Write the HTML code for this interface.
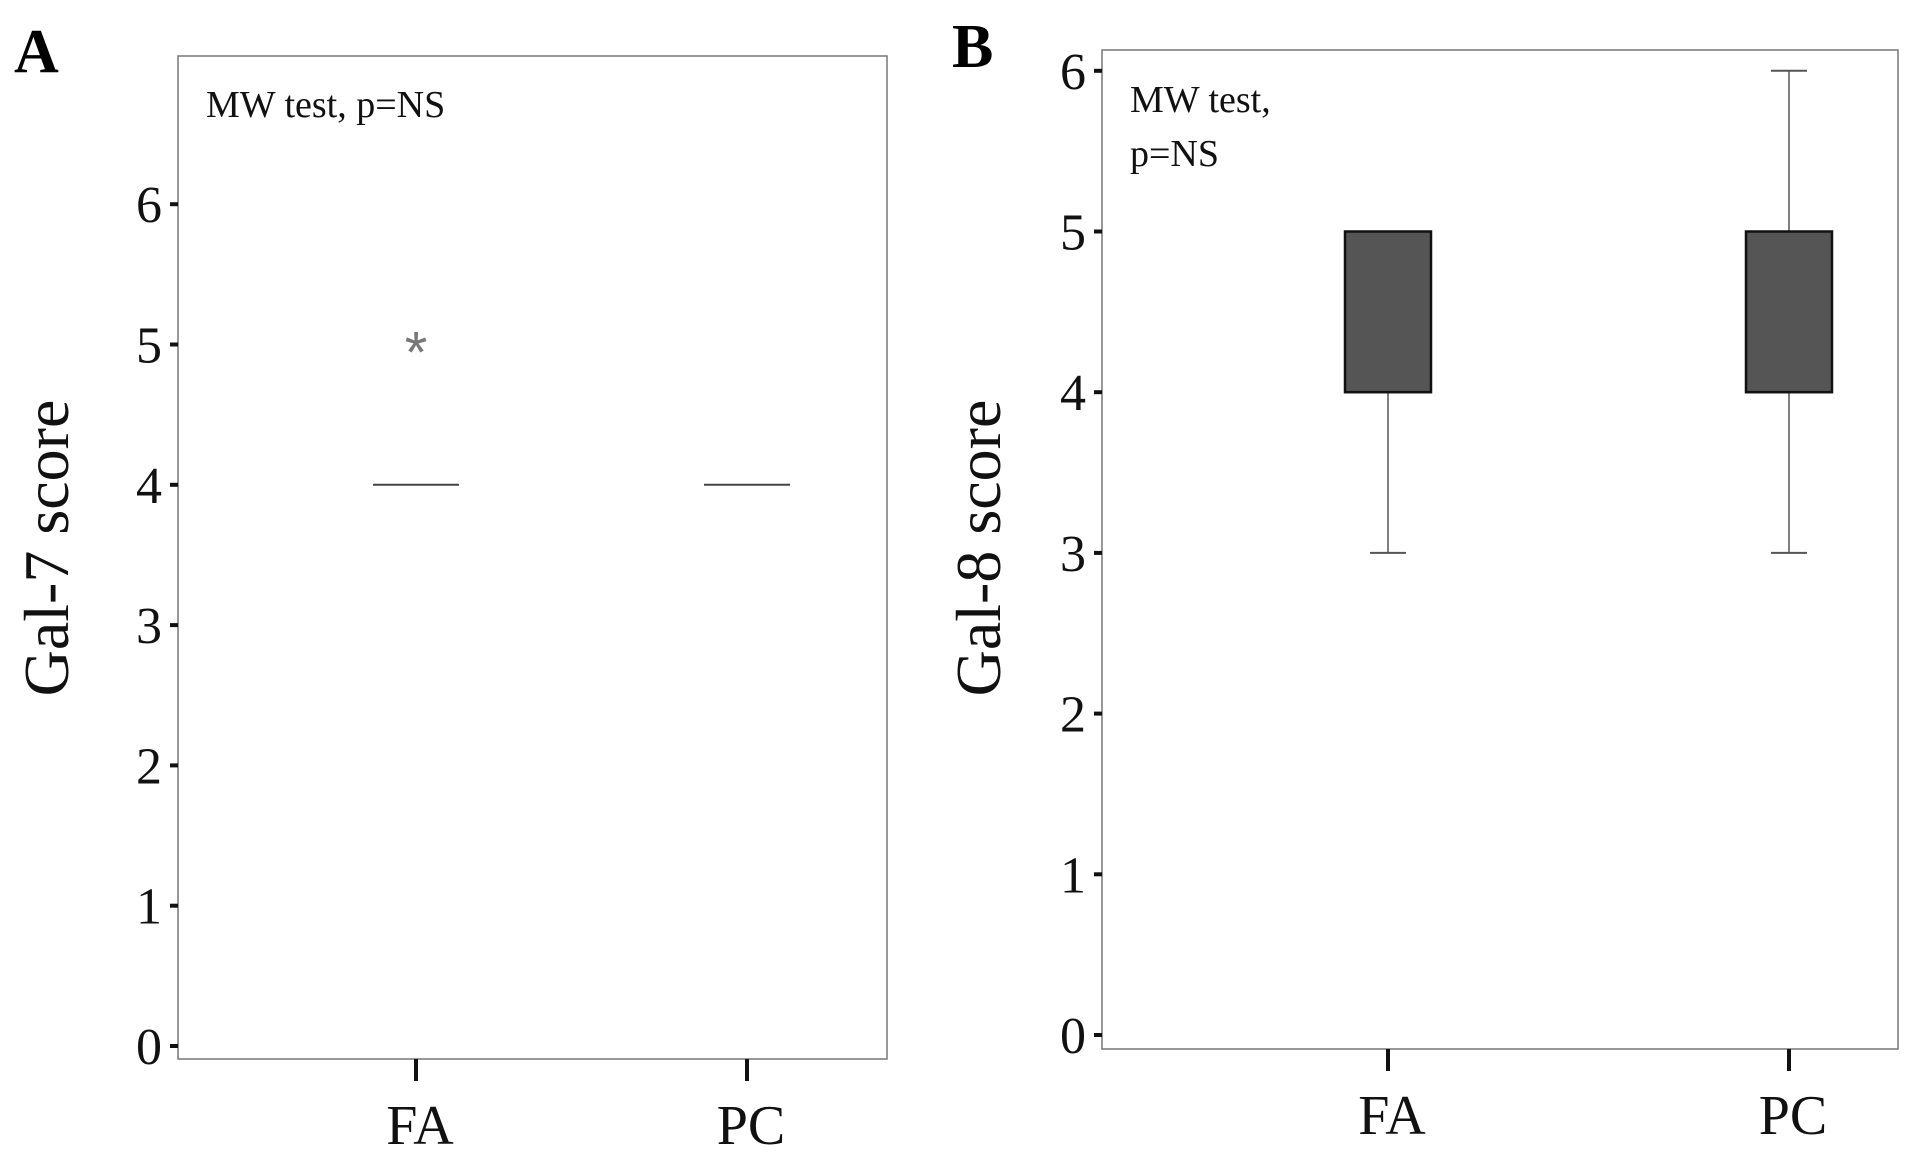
<!DOCTYPE html>
<html><head><meta charset="utf-8"><style>
body{margin:0;background:#fff}
svg{display:block;font-family:"Liberation Serif",serif}
</style></head><body>
<svg id="chart" width="1913" height="1156" viewBox="0 0 1913 1156">
<text x="14" y="72" font-size="62" font-weight="bold">A</text>
<text x="952" y="67" font-size="62" font-weight="bold">B</text>
<g id="pa"></g>
<g id="pb"></g>
</svg>
<script>
const categories = ["FA", "PC"];
const yTicks = [0, 1, 2, 3, 4, 5, 6];
// Panel A (Gal-7): all quartiles equal
const aMedian = [4, 4];
const aOutliers = [[0, 5]];
// Panel B (Gal-8)
const bMin = [3, 3];
const bQ1 = [4, 4];
const bQ3 = [5, 5];
const bMax = [3, 6];
const bMaxWhisker = [5, 6];

const NS = "http://www.w3.org/2000/svg";
function mk(parent, tag, attrs) { const e = document.createElementNS(NS, tag); for (const k in attrs) e.setAttribute(k, attrs[k]); parent.appendChild(e); return e; }

function axes(g, cfg) {
  const fr = mk(g, 'rect', {x: cfg.l, y: cfg.t, width: cfg.r - cfg.l, height: cfg.b - cfg.t, fill: 'none', stroke: '#777', 'stroke-width': 1.5});
  
  
  yTicks.forEach(v => {
    const y = cfg.y(v);
    const t = mk(g, 'line', {x1: cfg.l - 8, x2: cfg.l, y1: y, y2: y, stroke: '#111', 'stroke-width': 4});
    
    
    const tx = mk(g, 'text', {x: cfg.l - 16, y: y + 18, 'font-size': 52, 'text-anchor': 'end', fill: '#111'});
    tx.textContent = v;
    
    
  });
  categories.forEach((c, i) => {
    const x = cfg.x(i);
    const t = mk(g, 'line', {x1: x, x2: x, y1: cfg.b, y2: cfg.b + 22, stroke: '#111', 'stroke-width': 4});
    
    
    const tx = mk(g, 'text', {x: x + 4, y: cfg.b + 85, 'font-size': 56, 'text-anchor': 'middle', fill: '#111'});
    tx.textContent = c;
    
    
  });
  const yl = mk(g, 'text', {x: 0, y: 0, 'font-size': 64, 'text-anchor': 'middle', fill: '#111', transform: `translate(${cfg.ylx},${cfg.ylc}) rotate(-90)`});
  yl.textContent = cfg.ylabel;
  
  
  cfg.note.forEach((s, k) => {
    const n = mk(g, 'text', {x: cfg.l + 28, y: cfg.noteY + k * 54, 'font-size': 38, fill: '#111'});
    n.textContent = s;
    
    
  });
}

// Panel A
const A = {l: 178, t: 56, r: 887, b: 1059, ylx: 68, ylc: 548, ylabel: "Gal-7 score", note: ["MW test, p=NS"], noteY: 117};
A.y = v => 1046 - v * 140.3;
A.x = i => 416 + i * 331;
const ga = document.getElementById('pa');
axes(ga, A);
aMedian.forEach((m, i) => {
  const l = mk(ga, 'line', {x1: A.x(i) - 43, x2: A.x(i) + 43, y1: A.y(m), y2: A.y(m), stroke: '#444', 'stroke-width': 2});
  
  
});
aOutliers.forEach(o => {
  const s = mk(ga, 'text', {x: A.x(o[0]), y: A.y(o[1]) + 28, 'font-size': 58, 'text-anchor': 'middle', fill: '#777', 'font-family': 'Liberation Sans, sans-serif'});
  s.textContent = '*';
  
  
});

// Panel B
const B = {l: 1102, t: 50, r: 1898, b: 1049, ylx: 1000, ylc: 548, ylabel: "Gal-8 score", note: ["MW test,", "p=NS"], noteY: 112};
B.y = v => 1035 - v * 160.7;
B.x = i => 1388 + i * 401;
const gb = document.getElementById('pb');
axes(gb, B);
categories.forEach((c, i) => {
  const x = B.x(i), hw = 43, cw = 18;
  const wl = mk(gb, 'line', {x1: x, x2: x, y1: B.y(bMin[i]), y2: B.y(bQ1[i]), stroke: '#555', 'stroke-width': 1.5});
  
  
  const wc = mk(gb, 'line', {x1: x - cw, x2: x + cw, y1: B.y(bMin[i]), y2: B.y(bMin[i]), stroke: '#555', 'stroke-width': 2});
  
  
  if (bMaxWhisker[i] > bQ3[i]) {
    const wu = mk(gb, 'line', {x1: x, x2: x, y1: B.y(bMaxWhisker[i]), y2: B.y(bQ3[i]), stroke: '#555', 'stroke-width': 1.5});
    
    
    const uc = mk(gb, 'line', {x1: x - cw, x2: x + cw, y1: B.y(bMaxWhisker[i]), y2: B.y(bMaxWhisker[i]), stroke: '#555', 'stroke-width': 2});
    
    
  }
  const bx = mk(gb, 'rect', {x: x - hw, y: B.y(bQ3[i]), width: 2 * hw, height: B.y(bQ1[i]) - B.y(bQ3[i]), fill: '#555', stroke: '#111', 'stroke-width': 2.5});
  
  
});
</script>
</body></html>
